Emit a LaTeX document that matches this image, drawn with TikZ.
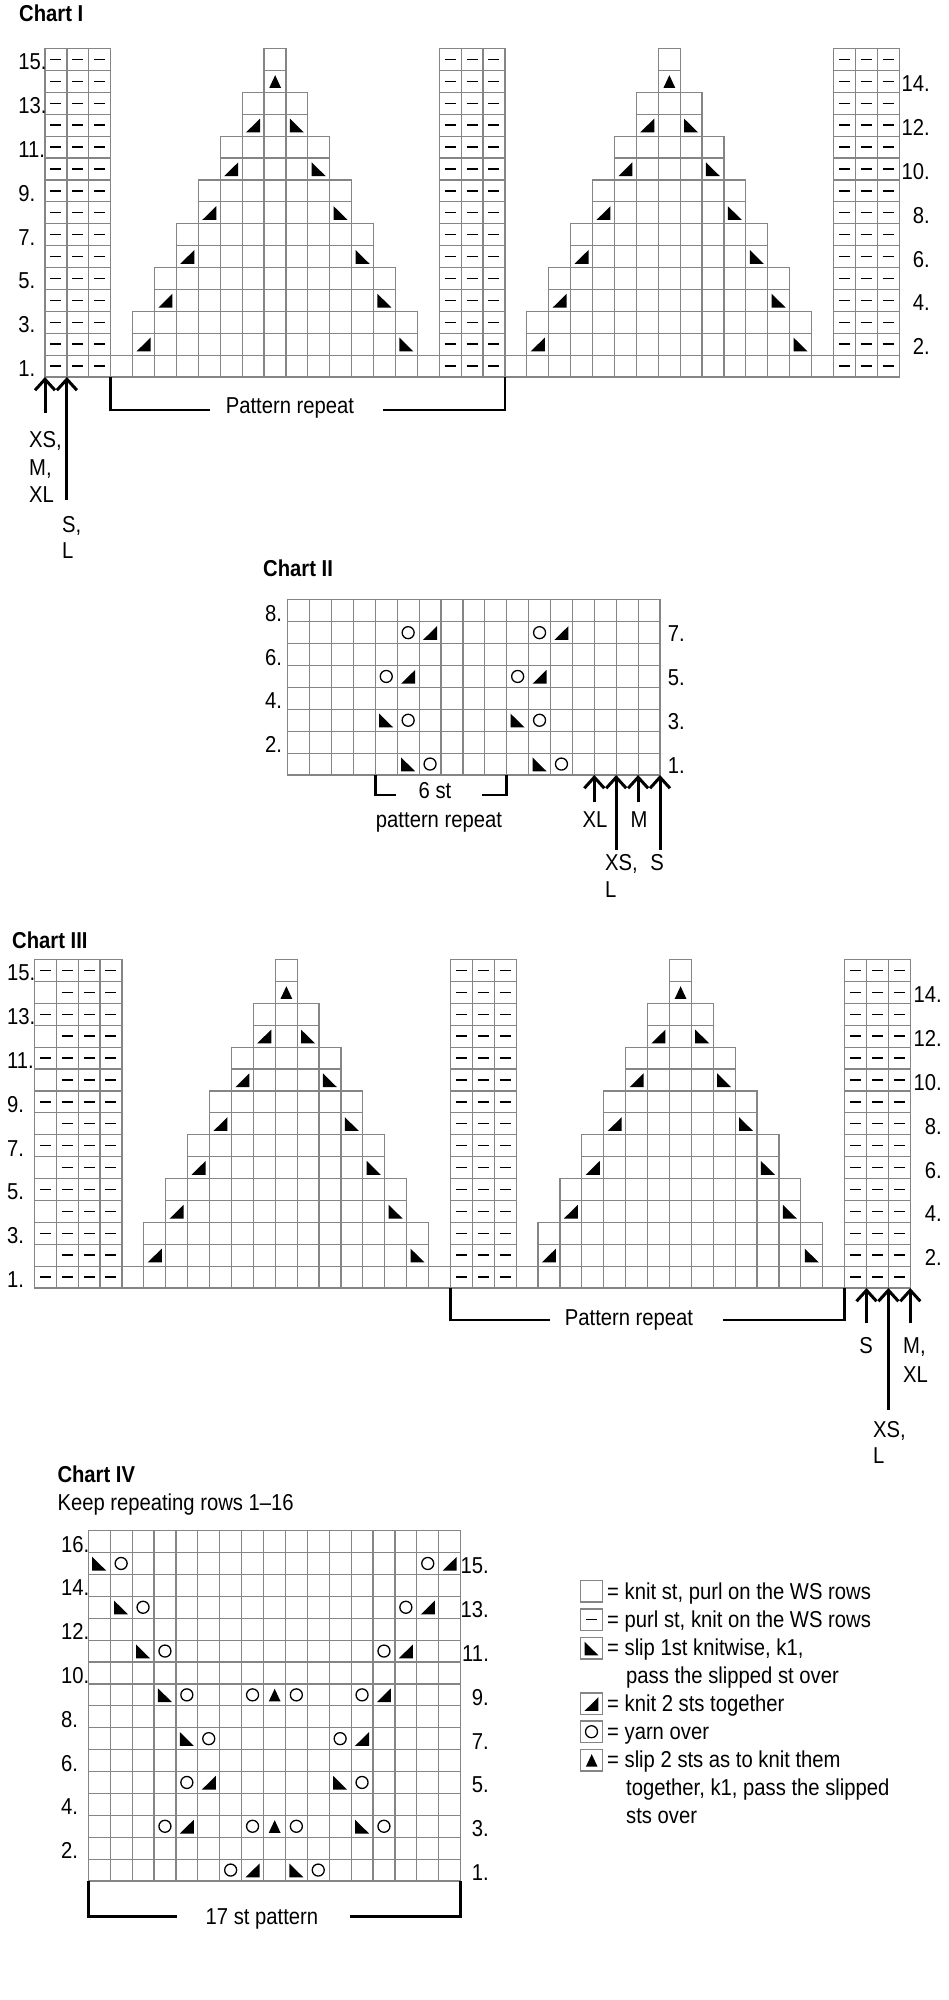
\documentclass[tikz,border=0pt]{standalone}
\usepackage{fontspec}
\setmainfont{Liberation Sans}[FakeStretch=0.88]
\usetikzlibrary{arrows.meta}
\definecolor{gridgray}{HTML}{858585}

% one chart square (top and right side only, so no line is drawn twice)
% and its symbols, column #1 and row #2 counted from 1
\newcommand\cellsq[2]{\draw[cellline] (#1-1,#2) -- (#1,#2) -- (#1,#2-1);}
\newcommand\purlmark[2]{\draw[purlline] (#1-0.75,#2-0.5) -- (#1-0.25,#2-0.5);}
\newcommand\ktwog[2]{\fill (#1-0.82,#2-0.83) -- (#1-0.18,#2-0.83) -- (#1-0.18,#2-0.2) -- cycle;}
\newcommand\sslip[2]{\fill (#1-0.82,#2-0.83) -- (#1-0.18,#2-0.83) -- (#1-0.82,#2-0.2) -- cycle;}
\newcommand\cdec[2]{\fill (#1-0.76,#2-0.8) -- (#1-0.22,#2-0.8) -- (#1-0.49,#2-0.22) -- cycle;}
\newcommand\yomark[2]{\draw[yoline] (#1-0.5,#2-0.5) circle[radius=6pt];}

\begin{document}
\begin{tikzpicture}[x=1pt,y=-1pt,
  cellline/.style={draw=gridgray,line width=1.2pt,line cap=rect},
  purlline/.style={line width=1.4pt},
  yoline/.style={line width=1.3pt},
  brack/.style={line width=2.8pt},
  szarr/.style={line width=3pt,-{Straight Barb[length=11pt,width=20pt]}},
  rowlab/.style={inner sep=0pt,font=\fontsize{23}{28}\selectfont},
  lab/.style={inner sep=0pt,font=\fontsize{23}{28}\selectfont},
  charttitle/.style={inner sep=0pt,anchor=base west,font=\bfseries\fontsize{23}{28}\selectfont}]
\useasboundingbox (0,0) rectangle (948,2000);

%% Chart I
\node[charttitle] (tI) at (19,21.7) {Chart I};
\begin{scope}[xshift=45pt,yshift=-377pt,x=21.9pt,y=21.9pt]
  \foreach \c in {1,2,3,19,20,21,37,38,39}
    \foreach \r in {1,...,15} {\cellsq{\c}{\r}\purlmark{\c}{\r}}
  \foreach \c in {4,18,22,36} {\cellsq{\c}{1}}
  \foreach \s in {4,22} {
    \foreach \c in {1,...,13} {\cellsq{\s+\c}{1}}
    \foreach \r in {2,...,15} {
      \pgfmathtruncatemacro\lo{\s+int(\r/2)}
      \pgfmathtruncatemacro\hi{\s+14-int(\r/2)}
      \foreach \c in {\lo,...,\hi} {\cellsq{\c}{\r}}
      \draw[cellline] (\lo-1,\r-1) -- (\lo-1,\r);
    }
    \foreach \r in {2,4,...,12} {
      \pgfmathtruncatemacro\lo{\s+\r/2}
      \pgfmathtruncatemacro\hi{\s+14-\r/2}
      \ktwog{\lo}{\r}\sslip{\hi}{\r}
    }
    \cdec{\s+7}{14}
  }
  \draw[cellline] (0,15) -- (0,0) -- (39,0);
  \draw[cellline] (18,1) -- (18,15) (36,1) -- (36,15);
  \foreach \r in {1,3,...,15} \node[rowlab,anchor=west] (I-l\r) at (-1.23,\r-0.62) {\r.};
  \foreach \r in {2,4,...,14} \node[rowlab,anchor=east] (I-r\r) at (40.41,\r-0.62) {\r.};
  \coordinate (I-b1) at (3,0);
  \coordinate (I-b2) at (21,0);
  \coordinate (I-t1) at (0,0);
  \coordinate (I-t2) at (1,0);
\end{scope}
\coordinate (I-e1) at (210,410);
\coordinate (I-e2) at (383,410);
\draw[brack] (I-b1) |- (I-e1);
\node[lab,anchor=base] (I-rep) at (290,413) {Pattern repeat};
\draw[brack] (I-e2) -| (I-b2);
\draw[szarr] ([yshift=-36pt]I-t1) -- (I-t1);
\draw[szarr] ([yshift=-123pt]I-t2) -- (I-t2);
\node[lab,anchor=base west] (I-s1) at (29,447) {XS,};
\node[lab,anchor=base west] (I-s2) at (29,475) {M,};
\node[lab,anchor=base west] (I-s3) at (29,502) {XL};
\node[lab,anchor=base west] (I-s4) at (62,532) {S,};
\node[lab,anchor=base west] (I-s5) at (62,558) {L};

%% Chart II
\node[charttitle] (tII) at (263,576) {Chart II};
\begin{scope}[xshift=287.7pt,yshift=-775pt,x=21.9pt,y=21.9pt]
  \draw[cellline,step=1] (0,0) grid (17,8);
  \foreach \d in {0,6} {
    \sslip{6+\d}{1}\yomark{7+\d}{1}
    \sslip{5+\d}{3}\yomark{6+\d}{3}
    \yomark{5+\d}{5}\ktwog{6+\d}{5}
    \yomark{6+\d}{7}\ktwog{7+\d}{7}
  }
  \foreach \r in {2,4,6,8} \node[rowlab,anchor=west] (II-l\r) at (-1.04,\r-0.62) {\r.};
  \foreach \r in {1,3,5,7} \node[rowlab,anchor=east] (II-r\r) at (18.14,\r-0.55) {\r.};
  \coordinate (II-b1) at (4,0);
  \coordinate (II-b2) at (10,0);
  \foreach \t in {14,15,16,17} \coordinate (II-t\t) at (\t,0);
\end{scope}
\coordinate (II-e1) at (396,795);
\coordinate (II-e2) at (482,795);
\draw[brack] (II-b1) |- (II-e1);
\draw[brack] (II-e2) -| (II-b2);
\node[lab,anchor=base] (II-rep1) at (435,798) {6 st};
\node[lab,anchor=base] (II-rep2) at (439,827) {pattern repeat};
\draw[szarr] ([yshift=-27pt]II-t14) -- (II-t14);
\draw[szarr] ([yshift=-75pt]II-t15) -- (II-t15);
\draw[szarr] ([yshift=-27pt]II-t16) -- (II-t16);
\draw[szarr] ([yshift=-75pt]II-t17) -- (II-t17);
\node[lab,anchor=base] (II-s1) at (595,827) {XL};
\node[lab,anchor=base] (II-s2) at (639,827) {M};
\node[lab,anchor=base west] (II-s3) at (605,870) {XS,};
\node[lab,anchor=base west] (II-s4) at (605,897) {L};
\node[lab,anchor=base] (II-s5) at (657,870) {S};

%% Chart III
\node[charttitle] (tIII) at (12,948) {Chart III};
\begin{scope}[xshift=34.3pt,yshift=-1288pt,x=21.9pt,y=21.9pt]
  \foreach \r in {1,...,15} {
    \foreach \c in {1,...,4} {\cellsq{\c}{\r}}
    \foreach \c in {2,3,4} {\purlmark{\c}{\r}}
  }
  \foreach \r in {1,3,...,15} {\purlmark{1}{\r}}
  \foreach \c in {20,21,22,38,39,40}
    \foreach \r in {1,...,15} {\cellsq{\c}{\r}\purlmark{\c}{\r}}
  \foreach \c in {5,19,23,37} {\cellsq{\c}{1}}
  \foreach \s in {5,23} {
    \foreach \c in {1,...,13} {\cellsq{\s+\c}{1}}
    \foreach \r in {2,...,15} {
      \pgfmathtruncatemacro\lo{\s+int(\r/2)}
      \pgfmathtruncatemacro\hi{\s+14-int(\r/2)}
      \foreach \c in {\lo,...,\hi} {\cellsq{\c}{\r}}
      \draw[cellline] (\lo-1,\r-1) -- (\lo-1,\r);
    }
    \foreach \r in {2,4,...,12} {
      \pgfmathtruncatemacro\lo{\s+\r/2}
      \pgfmathtruncatemacro\hi{\s+14-\r/2}
      \ktwog{\lo}{\r}\sslip{\hi}{\r}
    }
    \cdec{\s+7}{14}
  }
  \draw[cellline] (0,15) -- (0,0) -- (40,0);
  \draw[cellline] (19,1) -- (19,15) (37,1) -- (37,15);
  \foreach \r in {1,3,...,15} \node[rowlab,anchor=west] (III-l\r) at (-1.25,\r-0.62) {\r.};
  \foreach \r in {2,4,...,14} \node[rowlab,anchor=east] (III-r\r) at (41.45,\r-0.62) {\r.};
  \coordinate (III-b1) at (19,0);
  \coordinate (III-b2) at (37,0);
  \foreach \t in {38,39,40} \coordinate (III-t\t) at (\t,0);
\end{scope}
\coordinate (III-e1) at (550,1320);
\coordinate (III-e2) at (723,1320);
\draw[brack] (III-b1) |- (III-e1);
\node[lab,anchor=base] (III-rep) at (629,1325) {Pattern repeat};
\draw[brack] (III-e2) -| (III-b2);
\draw[szarr] ([yshift=-35pt]III-t38) -- (III-t38);
\draw[szarr] ([yshift=-122pt]III-t39) -- (III-t39);
\draw[szarr] ([yshift=-35pt]III-t40) -- (III-t40);
\node[lab,anchor=base] (III-s1) at (866,1353) {S};
\node[lab,anchor=base west] (III-s2) at (903,1353) {M,};
\node[lab,anchor=base west] (III-s3) at (903,1382) {XL};
\node[lab,anchor=base west] (III-s4) at (873,1437) {XS,};
\node[lab,anchor=base west] (III-s5) at (873,1463) {L};

%% Chart IV
\node[charttitle] (tIV) at (57.3,1482) {Chart IV};
\node[lab,anchor=base west] (tIVb) at (57.3,1510.7) {Keep repeating rows 1--16};
\begin{scope}[xshift=88.3pt,yshift=-1881pt,x=21.9pt,y=21.9pt]
  \draw[cellline,step=1] (0,0) grid (17,16);
  \yomark{7}{1}\ktwog{8}{1}\sslip{10}{1}\yomark{11}{1}
  \yomark{4}{3}\ktwog{5}{3}\yomark{8}{3}\cdec{9}{3}\yomark{10}{3}\sslip{13}{3}\yomark{14}{3}
  \yomark{5}{5}\ktwog{6}{5}\sslip{12}{5}\yomark{13}{5}
  \yomark{8}{9}\cdec{9}{9}\yomark{10}{9}
  \foreach \r/\c in {7/5,9/4,11/3,13/2,15/1} {
    \sslip{\c}{\r}\yomark{\c+1}{\r}\yomark{17-\c}{\r}\ktwog{18-\c}{\r}
  }
  \foreach \r in {2,4,...,16} \node[rowlab,anchor=west] (IV-l\r) at (-1.25,\r-0.62) {\r.};
  \foreach \r in {1,3,...,15} \node[rowlab,anchor=east] (IV-r\r) at (18.3,\r-0.62) {\r.};
  \coordinate (IV-b1) at (0,0);
  \coordinate (IV-b2) at (17,0);
\end{scope}
\coordinate (IV-e1) at (176.7,1916.7);
\coordinate (IV-e2) at (350,1916.7);
\draw[brack] (IV-b1) |- (IV-e1);
\node[lab,anchor=base] (IV-rep) at (262,1924) {17 st pattern};
\draw[brack] (IV-e2) -| (IV-b2);

%% key
\begin{scope}[xshift=580.7pt,x=21.6pt,y=21.6pt]
  \draw[cellline] (0,-1602pt) rectangle ++(1,1);
  \draw[cellline] (0,-1630.5pt) rectangle ++(1,1);
  \draw[cellline] (0,-1659pt) rectangle ++(1,1);
  \draw[cellline] (0,-1714.5pt) rectangle ++(1,1);
  \draw[cellline] (0,-1742.5pt) rectangle ++(1,1);
  \draw[cellline] (0,-1771pt) rectangle ++(1,1);
\end{scope}
\begin{scope}[xshift=580.7pt,yshift=-1630.5pt,x=21.6pt,y=21.6pt] \purlmark{1}{1} \end{scope}
\begin{scope}[xshift=580.7pt,yshift=-1659pt,x=21.6pt,y=21.6pt] \sslip{1}{1} \end{scope}
\begin{scope}[xshift=580.7pt,yshift=-1714.5pt,x=21.6pt,y=21.6pt] \ktwog{1}{1} \end{scope}
\begin{scope}[xshift=580.7pt,yshift=-1742.5pt,x=21.6pt,y=21.6pt] \yomark{1}{1} \end{scope}
\begin{scope}[xshift=580.7pt,yshift=-1771pt,x=21.6pt,y=21.6pt] \cdec{1}{1} \end{scope}
\node[lab,anchor=base west] (k1) at (607,1599) {= knit st, purl on the WS rows};
\node[lab,anchor=base west] (k2) at (607,1627) {= purl st, knit on the WS rows};
\node[lab,anchor=base west] (k3) at (607,1655) {= slip 1st knitwise, k1,};
\node[lab,anchor=base west] (k3b) at (626,1683) {pass the slipped st over};
\node[lab,anchor=base west] (k4) at (607,1711) {= knit 2 sts together};
\node[lab,anchor=base west] (k5) at (607,1739) {= yarn over};
\node[lab,anchor=base west] (k6) at (607,1767) {= slip 2 sts as to knit them};
\node[lab,anchor=base west] (k6b) at (626,1795) {together, k1, pass the slipped};
\node[lab,anchor=base west] (k6c) at (626,1823) {sts over};
\end{tikzpicture}
\end{document}
